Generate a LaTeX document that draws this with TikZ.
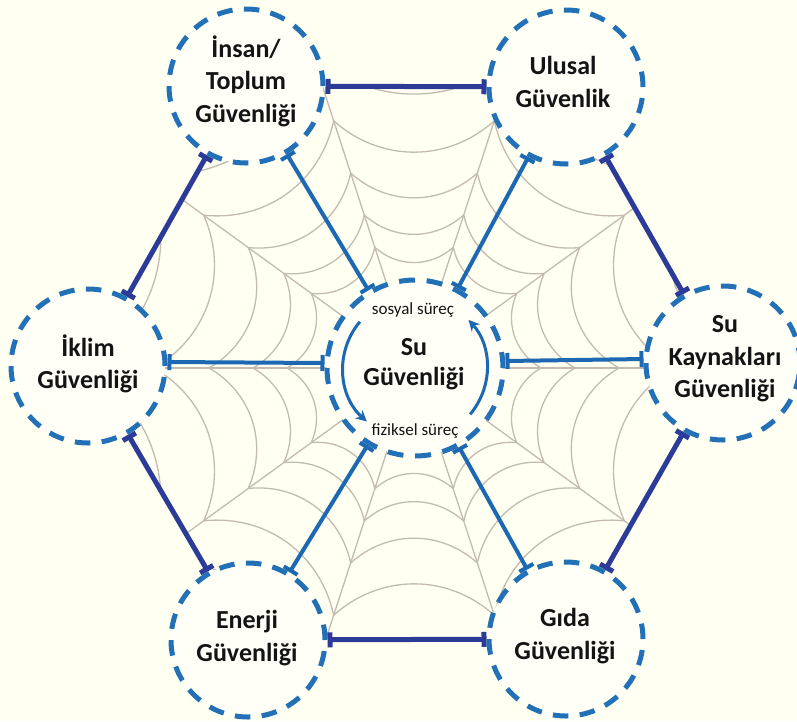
\documentclass[tikz,border=0pt]{standalone}
\usepackage{fontspec}
\setmainfont{Carlito}
\usetikzlibrary{arrows.meta,calc}
\definecolor{paper}{HTML}{FFFFF2}
\definecolor{disc}{HTML}{FFFFF7}
\definecolor{threadcol}{HTML}{C4BAB0}
\definecolor{ringblue}{HTML}{2270B6}
\definecolor{spokeblue}{HTML}{1C68B2}
\definecolor{edgenavy}{HTML}{2C3B98}
\definecolor{ink}{HTML}{141414}
\pgfdeclarelayer{bg}
\pgfsetlayers{bg,main}

\begin{document}
\begin{tikzpicture}[x=1pt,y=-1pt,
  dashring/.style={circle,draw=ringblue,line width=5pt,fill=disc,
    dash pattern=on 15.5pt off 11.4pt,minimum size=154pt,inner sep=0pt},
  hubring/.style={dashring,minimum size=176pt,dash pattern=on 16pt off 11.65pt},
  ctext/.style={font=\bfseries\fontsize{26}{32.5}\selectfont,text=ink,align=center,inner sep=0pt},
  hubtext/.style={font=\bfseries\fontsize{26}{30}\selectfont,text=ink,align=center,inner sep=0pt},
  smalltext/.style={font=\fontsize{17}{20}\selectfont,text=ink,inner sep=0pt},
  webthread/.style={draw=threadcol,line width=1.3pt},
  spokeline/.style={draw=spokeblue,line width=4pt,{Bar[width=16pt]}-{Bar[width=16pt]}},
  edgeline/.style={draw=edgenavy,line width=5pt,{Bar[width=15pt]}-{Bar[width=15pt]}},
  cycleline/.style={draw=spokeblue,line width=3pt,-{Stealth[length=11pt,width=11pt]}}
]
\useasboundingbox (0,0) rectangle (797,721);

% security circles
\node[dashring] (ntl) at (246,86)  {};
\node[dashring] (ntr) at (566,87)  {};
\node[dashring] (nl)  at (88,366)  {};
\node[dashring] (nr)  at (723,363) {};
\node[dashring] (nbl) at (248,640) {};
\node[dashring] (nbr) at (566,639) {};
\node[hubring]  (nc)  at (415,368) {};
\coordinate (w) at (414,368);

\begin{pgfonlayer}{bg}
  \fill[paper] (0,0) rectangle (797,721);
  % spider web between the circles: ten radial threads, rings of round arcs
  \begin{scope}
    \clip (ntl.center) -- (ntr.center) -- (nr.center) -- (nbr.center)
          -- (nbl.center) -- (nl.center) -- cycle;
    \foreach \k in {0,...,9} {
      \draw[webthread] (w) -- ($(w)+({\k*36}:460)$);
      \foreach \r in {127,161,205,260,330,420} {
        \draw[webthread] ($(w)+({\k*36}:\r)$) to[bend right=42] ($(w)+({\k*36+36}:\r)$);
      }
    }
  \end{scope}
  % outer ring of links
  \draw[edgeline] (ntl) -- (ntr);
  \draw[edgeline] (ntr) -- (nr);
  \draw[edgeline] (nr) -- (nbr);
  \draw[edgeline] (nbr) -- (nbl);
  \draw[edgeline] (nbl) -- (nl);
  \draw[edgeline] (nl) -- (ntl);
  % links to the hub
  \draw[spokeline] (nc) -- (ntl);
  \draw[spokeline] (nc) -- (ntr);
  \draw[spokeline] (nc) -- (nbl);
  \draw[spokeline] (nc) -- (nbr);
  \draw[spokeline] ([yshift=5pt]nc.west) -- ([yshift=4pt]nl.east);
  \draw[spokeline] ([yshift=7pt]nc.east) -- ([yshift=4pt]nr.west);
\end{pgfonlayer}

% texts
\node[ctext] (ttl) at (246,81)  {İnsan/\\Toplum\\Güvenliği};
\node[ctext] (ttr) at (563,82)  {Ulusal\\Güvenlik};
\node[ctext] (tl)  at (88,364)  {İklim\\Güvenliği};
\node[ctext] (tr)  at (725,359) {Su\\Kaynakları\\Güvenliği};
\node[ctext] (tbl) at (247,638) {Enerji\\Güvenliği};
\node[ctext] (tbr) at (565,636) {Gıda\\Güvenliği};
\node[hubtext] (tc) at (414,364) {Su\\Güvenliği};
\node[smalltext] (ts) at (413,310) {sosyal süreç};
\node[smalltext] (tf) at (415,431) {fiziksel süreç};

% cycle inside the hub
\draw[cycleline] ($(nc)+(-140:72)$) arc[start angle=-140,end angle=-228,radius=72];
\draw[cycleline] ($(nc)+(40:72)$) arc[start angle=40,end angle=-42,radius=72];
\end{tikzpicture}
\end{document}
